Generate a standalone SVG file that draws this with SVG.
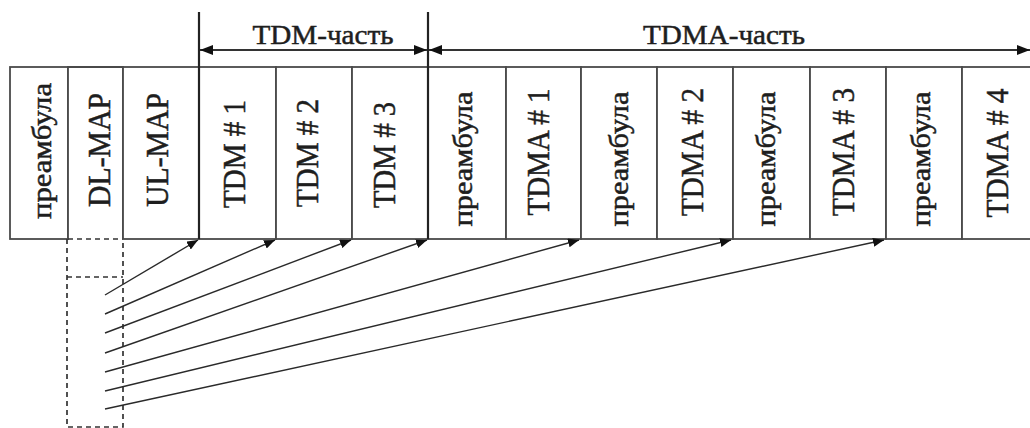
<svg xmlns="http://www.w3.org/2000/svg" width="1030" height="428" viewBox="0 0 1030 428">
<style>
.cell{fill:#fff;stroke:#4a4a4a;stroke-width:1.8}
.lbl{font-family:"Liberation Serif","Times New Roman",serif;font-size:31px;fill:#1e1e1e;stroke:#1e1e1e;stroke-width:0.5;text-anchor:middle}
.pre{font-size:28px}
.top{font-family:"Liberation Serif","Times New Roman",serif;font-size:28px;fill:#1e1e1e;stroke:#1e1e1e;stroke-width:0.5;text-anchor:middle}
.dash{fill:none;stroke:#333;stroke-width:1.7;stroke-dasharray:5,4}
.bound{stroke:#222;stroke-width:2.2;fill:none}
.dim{stroke:#333;stroke-width:1.8;fill:none}
.con{stroke:#2a2a2a;stroke-width:1.4;fill:none}
</style>
<defs>
<marker id="ah" markerUnits="userSpaceOnUse" markerWidth="13" markerHeight="10" refX="13" refY="5" orient="auto-start-reverse">
<path d="M0,0 L13,5 L0,10 z" fill="#111"/>
</marker>
<marker id="ac" markerUnits="userSpaceOnUse" markerWidth="11" markerHeight="9" refX="11" refY="4.5" orient="auto">
<path d="M0,0 L11,4.5 L0,9 z" fill="#111"/>
</marker>
</defs>

<g id="cell-preamble-0"><rect class="cell" x="10" y="67" width="58" height="172"/><text class="lbl pre" transform="translate(51,151) rotate(-90)" textLength="136" lengthAdjust="spacingAndGlyphs">преамбула</text></g>
<g id="cell-dlmap"><rect x="68" y="67" width="55" height="172" fill="#fff"/><path d="M68,239 V67 H123 V239" class="cell" fill="none"/><line x1="68" y1="239" x2="123" y2="239" class="dash"/><text class="lbl" transform="translate(110,150) rotate(-90)" textLength="114" lengthAdjust="spacingAndGlyphs">DL-MAP</text></g>
<g id="cell-ulmap"><rect class="cell" x="123" y="67" width="76" height="172"/><text class="lbl" transform="translate(168,150) rotate(-90)" textLength="114" lengthAdjust="spacingAndGlyphs">UL-MAP</text></g>
<g id="cell-tdm1"><rect class="cell" x="199" y="67" width="77" height="172"/><text class="lbl" transform="translate(245,154) rotate(-90)" textLength="108" lengthAdjust="spacingAndGlyphs">TDM # 1</text></g>
<g id="cell-tdm2"><rect class="cell" x="276" y="67" width="76" height="172"/><text class="lbl" transform="translate(318,153) rotate(-90)" textLength="108" lengthAdjust="spacingAndGlyphs">TDM # 2</text></g>
<g id="cell-tdm3"><rect class="cell" x="352" y="67" width="76" height="172"/><text class="lbl" transform="translate(395,155) rotate(-90)" textLength="106" lengthAdjust="spacingAndGlyphs">TDM # 3</text></g>
<g id="cell-preamble-1"><rect class="cell" x="428" y="67" width="78" height="172"/><text class="lbl pre" transform="translate(472,159) rotate(-90)" textLength="135" lengthAdjust="spacingAndGlyphs">преамбула</text></g>
<g id="cell-tdma1"><rect class="cell" x="506" y="67" width="75" height="172"/><text class="lbl" transform="translate(549,152) rotate(-90)" textLength="127" lengthAdjust="spacingAndGlyphs">TDMA # 1</text></g>
<g id="cell-preamble-2"><rect class="cell" x="581" y="67" width="76" height="172"/><text class="lbl pre" transform="translate(628,159) rotate(-90)" textLength="135" lengthAdjust="spacingAndGlyphs">преамбула</text></g>
<g id="cell-tdma2"><rect class="cell" x="657" y="67" width="76" height="172"/><text class="lbl" transform="translate(703,152) rotate(-90)" textLength="128" lengthAdjust="spacingAndGlyphs">TDMA # 2</text></g>
<g id="cell-preamble-3"><rect class="cell" x="733" y="67" width="77" height="172"/><text class="lbl pre" transform="translate(775,159) rotate(-90)" textLength="135" lengthAdjust="spacingAndGlyphs">преамбула</text></g>
<g id="cell-tdma3"><rect class="cell" x="810" y="67" width="76" height="172"/><text class="lbl" transform="translate(854,152) rotate(-90)" textLength="128" lengthAdjust="spacingAndGlyphs">TDMA # 3</text></g>
<g id="cell-preamble-4"><rect class="cell" x="886" y="67" width="76" height="172"/><text class="lbl pre" transform="translate(930,159) rotate(-90)" textLength="135" lengthAdjust="spacingAndGlyphs">преамбула</text></g>
<g id="cell-tdma4"><rect class="cell" x="962" y="67" width="80" height="172"/><text class="lbl" transform="translate(1008,153) rotate(-90)" textLength="129" lengthAdjust="spacingAndGlyphs">TDMA # 4</text></g>

<g id="dlmap-detail">
<path class="dash" d="M67,239 V427 H123 V239"/>
<line class="dash" x1="67" y1="277" x2="123" y2="277"/>
</g>

<g id="dimensions">
<line class="bound" x1="199" y1="12" x2="199" y2="239"/>
<line class="bound" x1="428" y1="12" x2="428" y2="239"/>
<line class="dim" x1="200" y1="50" x2="427" y2="50" marker-start="url(#ah)" marker-end="url(#ah)"/>
<line class="dim" x1="429" y1="50" x2="1030" y2="50" marker-start="url(#ah)" marker-end="url(#ah)"/>
<text class="top" x="323" y="44" textLength="141" lengthAdjust="spacingAndGlyphs">TDM-часть</text>
<text class="top" x="724" y="44" textLength="162" lengthAdjust="spacingAndGlyphs">TDMA-часть</text>
</g>

<g id="connectors">
<line class="con" x1="105" y1="295" x2="198" y2="240" marker-end="url(#ac)"/>
<line class="con" x1="105" y1="314" x2="275" y2="240" marker-end="url(#ac)"/>
<line class="con" x1="105" y1="333" x2="351" y2="240" marker-end="url(#ac)"/>
<line class="con" x1="105" y1="353" x2="427" y2="240" marker-end="url(#ac)"/>
<line class="con" x1="105" y1="372" x2="579" y2="240" marker-end="url(#ac)"/>
<line class="con" x1="105" y1="391" x2="731" y2="240" marker-end="url(#ac)"/>
<line class="con" x1="105" y1="409" x2="884" y2="240" marker-end="url(#ac)"/>
</g>
</svg>
